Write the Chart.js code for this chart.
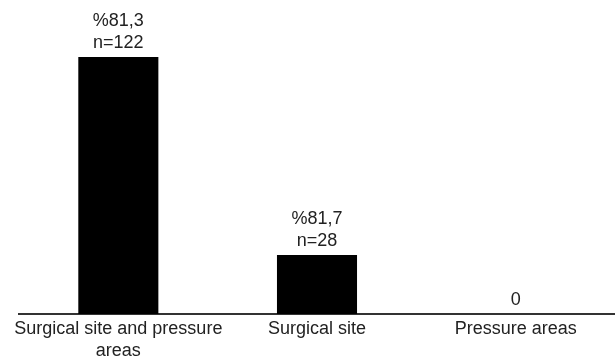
<!DOCTYPE html>
<html lang="en">
<head>
    <meta charset="UTF-8">
    <title>Wound locations</title>
    <style>
        body {
            margin: 0;
            padding: 0;
            background-color: #fff;
        }
        .container {
            width: 615px;
            height: 358px;
            position: relative;
        }
    </style>
</head>
<body>
    <div class="container">
        <canvas id="woundChart"></canvas>
    </div>
    <script src="https://cdn.jsdelivr.net/npm/chart.js"></script>
    <script>
        // data
        const categories = [['Surgical site and pressure', 'areas'], 'Surgical site', 'Pressure areas'];
        const counts = [122, 28, 0];
        const percentLabels = ['%81,3', '%81,7', ''];

        const fontFamily = '"Liberation Sans", Arial, sans-serif';
        const textColor = '#222';

        // draws "%xx,x / n=xx" above each bar
        const valueLabels = {
            id: 'valueLabels',
            afterDatasetsDraw(chart) {
                const ctx = chart.ctx;
                const meta = chart.getDatasetMeta(0);
                ctx.save();
                ctx.fillStyle = textColor;
                ctx.font = '18px ' + fontFamily;
                ctx.textAlign = 'center';
                ctx.textBaseline = 'alphabetic';
                meta.data.forEach((bar, i) => {
                    const lines = percentLabels[i] ? [percentLabels[i], 'n=' + counts[i]] : [String(counts[i])];
                    let y = bar.y - 9;
                    for (let j = lines.length - 1; j >= 0; j--) {
                        ctx.fillText(lines[j], bar.x, y);
                        y -= 22;
                    }
                });
                ctx.restore();
            }
        };

        const ctx = document.getElementById('woundChart').getContext('2d');
        new Chart(ctx, {
            type: 'bar',
            data: {
                labels: categories,
                datasets: [{
                    data: counts,
                    backgroundColor: '#000',
                    borderWidth: 0,
                    categoryPercentage: 1,
                    barPercentage: 0.403
                }]
            },
            options: {
                responsive: true,
                maintainAspectRatio: false,
                animation: false,
                layout: {
                    padding: { left: 19, right: 0, top: 19, bottom: 0 }
                },
                plugins: {
                    legend: { display: false },
                    tooltip: { enabled: false }
                },
                scales: {
                    x: {
                        grid: { display: false, drawTicks: false },
                        border: { display: true, color: '#333', width: 2 },
                        ticks: {
                            color: textColor,
                            padding: 4,
                            maxRotation: 0,
                            autoSkip: false,
                            font: { family: fontFamily, size: 18, lineHeight: 22 / 18 }
                        },
                        afterFit(scale) {
                            scale.height = 44;
                        }
                    },
                    y: {
                        display: false,
                        min: 0,
                        max: 140
                    }
                }
            },
            plugins: [valueLabels]
        });
    </script>
</body>
</html>
